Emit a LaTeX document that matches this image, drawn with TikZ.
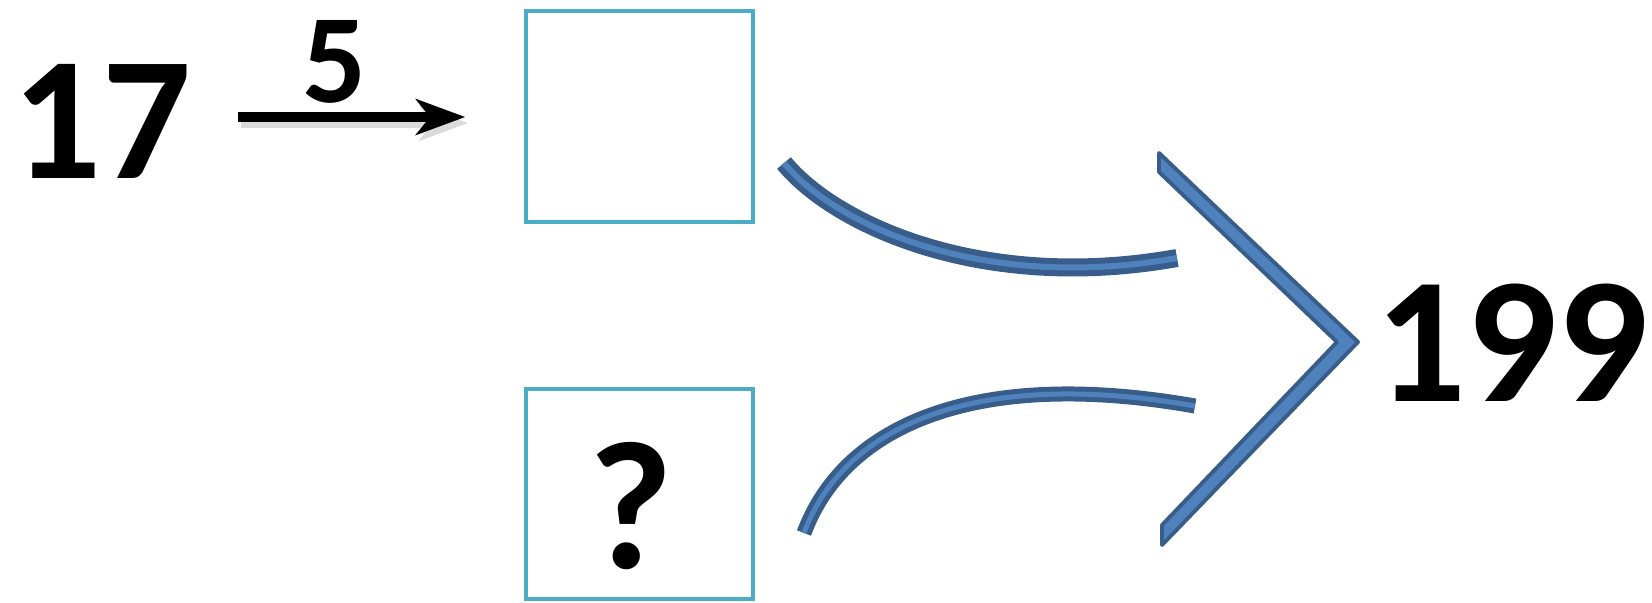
\documentclass[tikz,border=0pt]{standalone}
\usepackage{fontspec}
\setmainfont{Carlito}
\usetikzlibrary{arrows.meta}
\definecolor{boxcyan}{HTML}{4BACC6}
\definecolor{shapefill}{HTML}{4F81BD}
\definecolor{shapeline}{HTML}{385D8A}
\tikzset{
    bignum/.style={font=\fontsize{50}{60}\bfseries\selectfont,inner sep=0pt},
    answerbox/.style={draw=boxcyan,line width=0.45mm,minimum width=2.27cm,minimum height=2.11cm,inner sep=0pt},
    tube/.style={draw=shapeline,double=shapefill,line width=0.6mm,double distance=0.6mm},
    opto/.style={-{Stealth[length=5mm,width=3.7mm,inset=1.5mm,line width=0pt]},line width=1mm},
  }
\begin{document}
\begin{tikzpicture}
				  \useasboundingbox (0,0) rectangle (16.52,6.02);
				  %START AND RESULT
				  \node[bignum] (start) at (1.02,4.81) {17};
				  \node[bignum,font=\fontsize{51}{61}\bfseries\selectfont] (result) at (15.12,2.59) {199};
				  %ARROW +5
				  \coordinate (a1) at (2.38,4.85);
				  \coordinate (a2) at (4.65,4.85);
				  \draw[opto,black!35,opacity=0.4,transform canvas={shift={(0.3mm,-0.6mm)}}] (a1) -- (a2);
				  \draw[opto] (a1) -- (a2);
				  \node[bignum,font=\fontsize{36}{44}\bfseries\selectfont] (step5) at (3.35,5.40) {5};
				  %BOXES
				  \node[answerbox] (box1) at (6.395,4.855) {};
				  \node[answerbox,minimum height=2.10cm] (box2) at (6.395,1.08) {};
				  \node[bignum,font=\fontsize{52}{62}\bfseries\selectfont] (qmark) at (6.31,0.96) {?};
				  %CURVES
				  \coordinate (c1) at (7.84,4.39);
				  \coordinate (c2) at (11.77,3.44);
				  \draw[tube] (c1) .. controls (8.34,3.78) and (9.81,3.09) .. (c2);
				  \coordinate (d1) at (8.04,0.69);
				  \coordinate (d2) at (11.95,1.96);
				  \draw[tube,line width=0.5mm,double distance=0.5mm] (d1) .. controls (8.42,1.72) and (9.68,2.36) .. (d2);
				  %CHEVRON
				  \coordinate (A) at (11.59,4.49);
				  \coordinate (B) at (13.58,2.60);
				  \coordinate (C) at (11.62,0.57);
				  \coordinate (D) at (11.62,0.77);
				  \coordinate (E) at (13.37,2.60);
				  \coordinate (F) at (11.59,4.30);
				  \draw[shapeline,fill=shapefill,line width=1.1pt,line join=round] (A) -- (B) -- (C) -- (D) -- (E) -- (F) -- cycle;
				  \end{tikzpicture}
\end{document}
